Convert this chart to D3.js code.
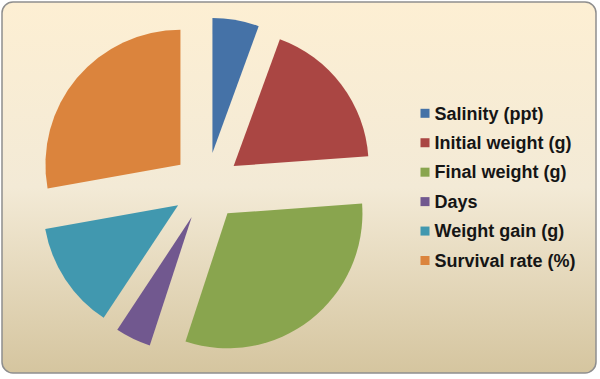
<!DOCTYPE html>
<html>
<head>
<meta charset="utf-8">
<script src="https://cdn.jsdelivr.net/npm/d3@7"></script>
<style>
  html, body { margin: 0; padding: 0; background: #ffffff; }
  svg { display: block; }
</style>
</head>
<body>
<svg id="chart" width="600" height="379"></svg>
<script>
const categories = ["Salinity (ppt)", "Initial weight (g)", "Final weight (g)", "Days", "Weight gain (g)", "Survival rate (%)"];
const values = [15, 49.3, 84, 11.5, 34.7, 75];
const colors = ["#4572A7", "#AA4643", "#89A54E", "#71588F", "#4198AF", "#DB843D"];

const svg = d3.select("#chart");
const W = 600, H = 379;

const defs = svg.append("defs");
const grad = defs.append("linearGradient")
  .attr("id", "bg").attr("x1", 0).attr("y1", 0).attr("x2", 0).attr("y2", 1);
grad.append("stop").attr("offset", "0%").attr("stop-color", "#fdefd3");
grad.append("stop").attr("offset", "50%").attr("stop-color", "#f3ead6");
grad.append("stop").attr("offset", "100%").attr("stop-color", "#d5c59f");

svg.append("rect")
  .attr("x", 2).attr("y", 2).attr("width", 594).attr("height", 371)
  .attr("rx", 11).attr("ry", 11)
  .attr("fill", "url(#bg)")
  .attr("stroke", "#8e8e8e").attr("stroke-width", 1.5);

const cx = 206.5, cy = 186.5, R = 135, explode = 34;

const pie = d3.pie().sort(null).value(d => d).startAngle(0).endAngle(2 * Math.PI);
const arc = d3.arc().innerRadius(0).outerRadius(R);
const arcs = pie(values);

const g = svg.append("g").attr("transform", `translate(${cx},${cy})`);
g.selectAll("path")
  .data(arcs)
  .join("path")
  .attr("d", arc)
  .attr("fill", (d, i) => colors[i])
  .attr("transform", d => {
    const a = (d.startAngle + d.endAngle) / 2;
    return `translate(${explode * Math.sin(a)},${-explode * Math.cos(a)})`;
  });

const legend = svg.append("g");
const rowY = d3.scalePoint().domain(categories).range([113.3, 260.5]);
const items = legend.selectAll("g")
  .data(categories)
  .join("g")
  .attr("transform", d => `translate(420.5,${rowY(d)})`);
items.append("rect")
  .attr("x", 0).attr("y", -4.5).attr("width", 9).attr("height", 9)
  .attr("fill", (d, i) => colors[i]);
items.append("text")
  .attr("x", 14).attr("y", 6.3)
  .attr("font-family", "'Liberation Sans', Arial, sans-serif")
  .attr("font-size", "18px")
  .attr("font-weight", "bold")
  .attr("fill", "#151515")
  .text(d => d);
</script>
</body>
</html>
